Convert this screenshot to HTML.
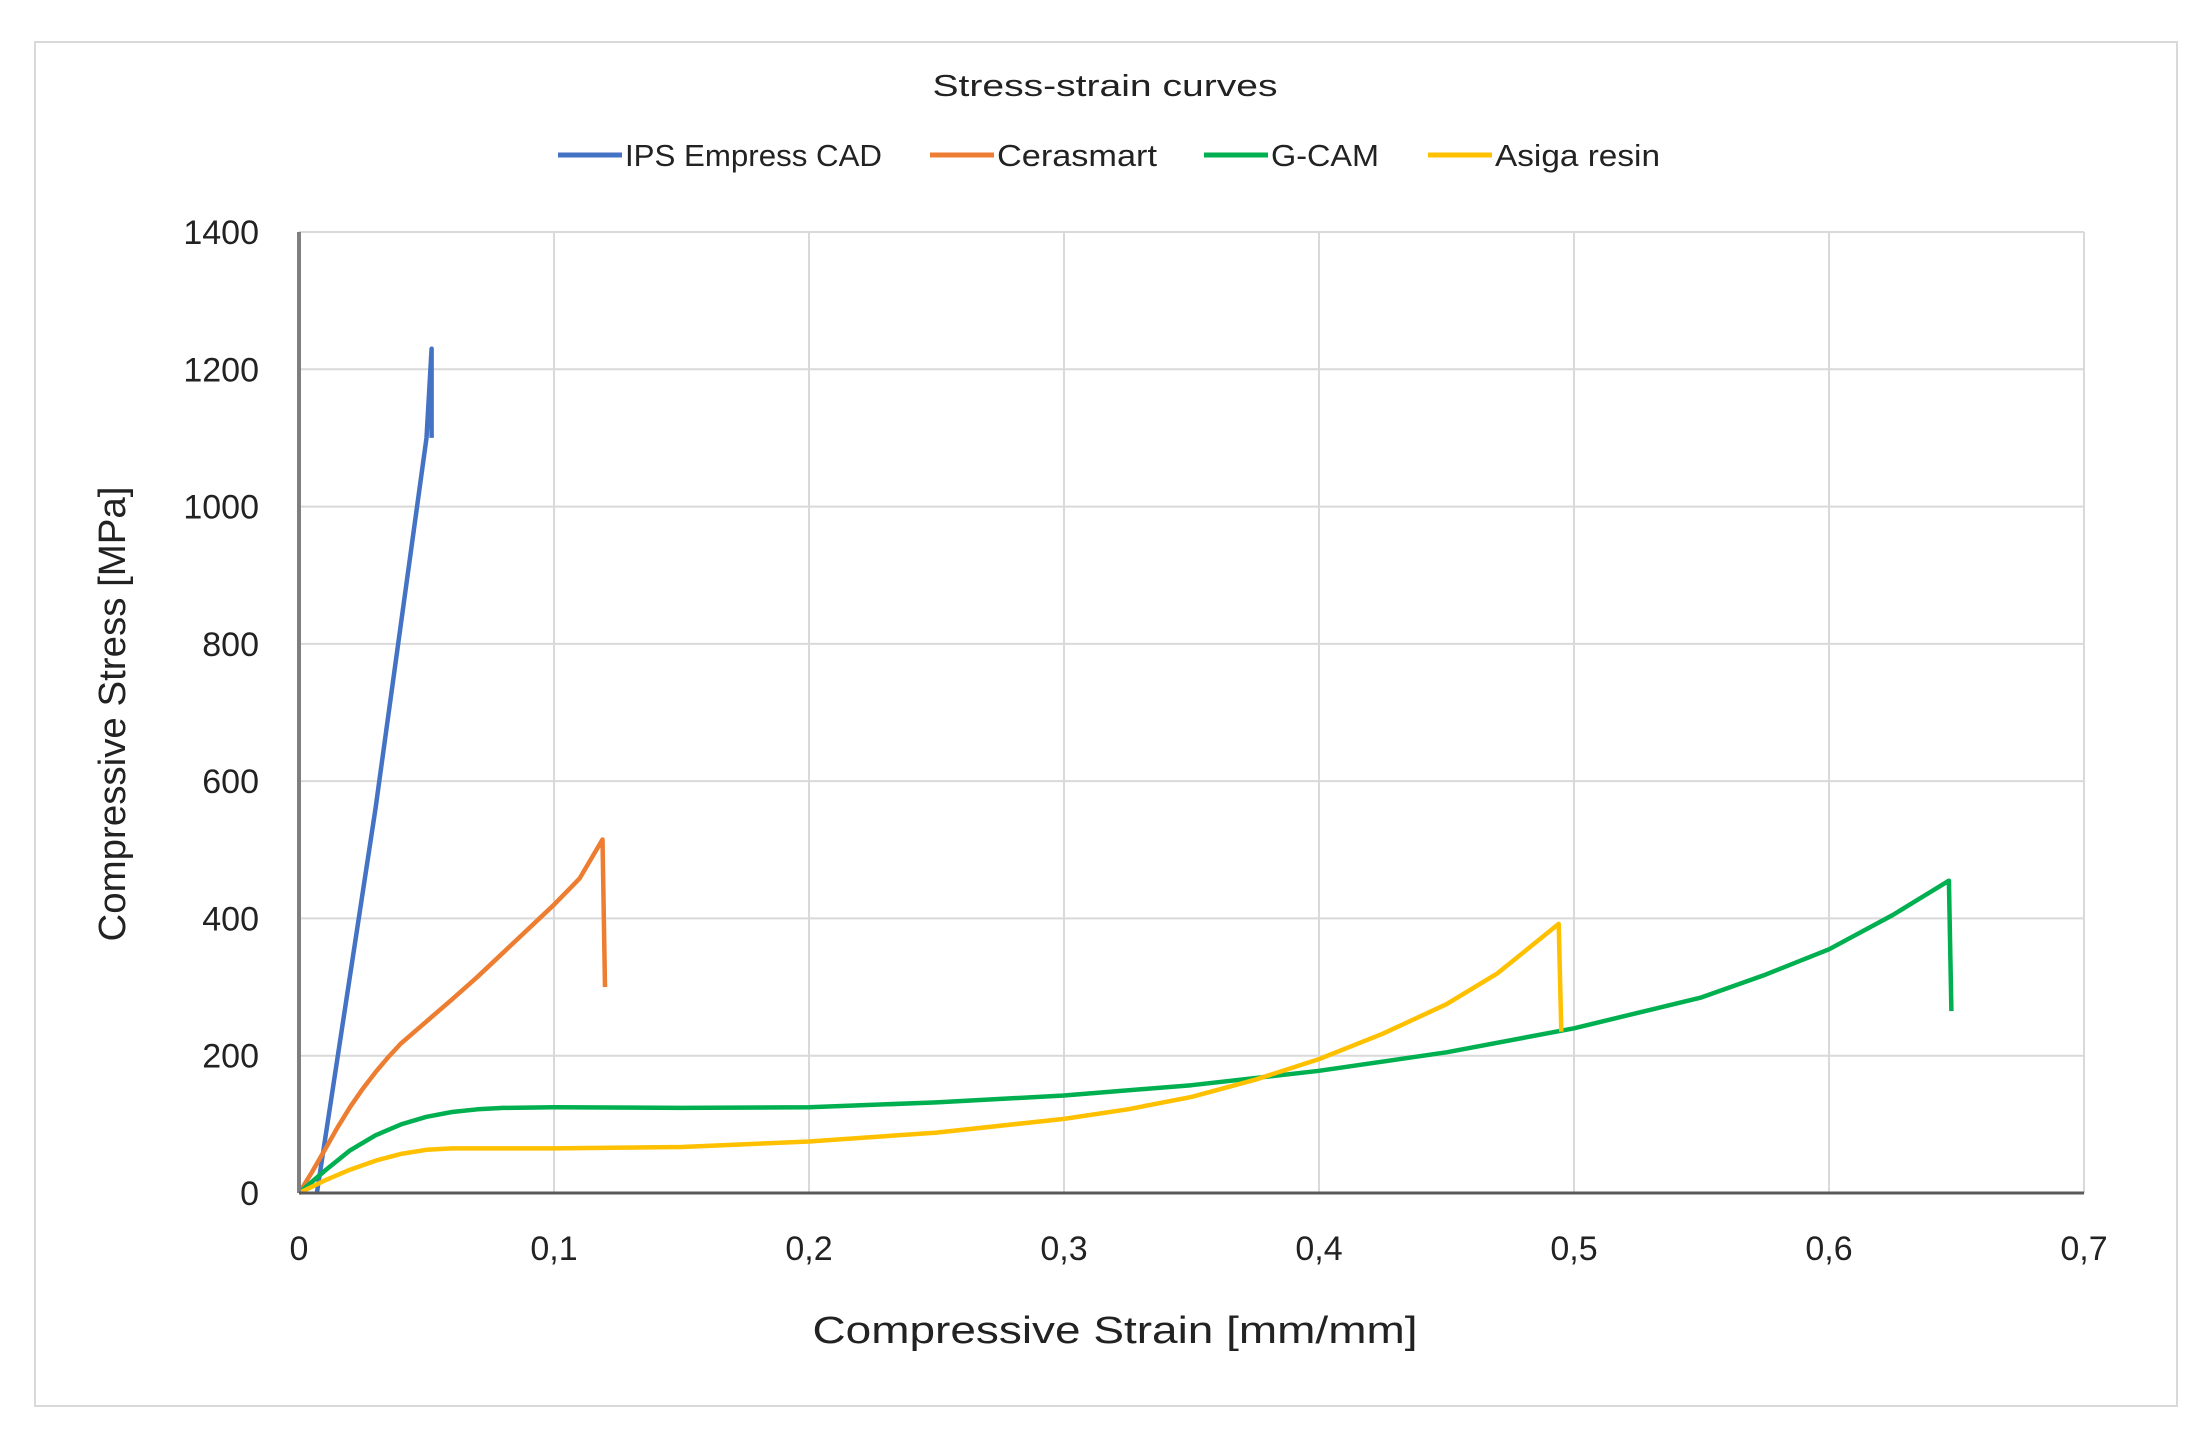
<!DOCTYPE html>
<html><head><meta charset="utf-8"><style>
html,body{margin:0;padding:0;background:#fff}
svg{display:block}
text{font-family:"Liberation Sans",sans-serif;fill:#222}
</style></head><body>
<svg id="chart" width="2205" height="1437" viewBox="0 0 2205 1437" xmlns="http://www.w3.org/2000/svg">
<rect x="35" y="42" width="2142" height="1364" fill="#fff" stroke="#d9d9d9" stroke-width="2"/>
<text x="1105" y="96" font-size="31" text-anchor="middle" textLength="345" lengthAdjust="spacingAndGlyphs">Stress-strain curves</text>
<g id="legend"></g>
<g id="grid"></g>
<g id="series"></g>
<g id="axes"></g>
<text transform="translate(125,714) rotate(-90)" font-size="38" text-anchor="middle" textLength="455" lengthAdjust="spacingAndGlyphs">Compressive Stress [MPa]</text>
<text x="1115" y="1343" font-size="38" text-anchor="middle" textLength="605" lengthAdjust="spacingAndGlyphs">Compressive Strain [mm/mm]</text>
</svg>
<script>
const xTicks=[0,0.1,0.2,0.3,0.4,0.5,0.6,0.7];
const xTickLabels=["0","0,1","0,2","0,3","0,4","0,5","0,6","0,7"];
const yTicks=[0,200,400,600,800,1000,1200,1400];
const seriesNames=["IPS Empress CAD","Cerasmart","G-CAM","Asiga resin"];
const seriesColors=["#4472c4","#ed7d31","#00b050","#ffc000"];
const empressX=[0.007,0.03,0.05,0.052,0.052];
const empressY=[0,560,1100,1230,1100];
const cerasmartX=[0,0.005,0.01,0.015,0.02,0.025,0.03,0.035,0.04,0.05,0.06,0.07,0.08,0.09,0.1,0.11,0.119,0.12];
const cerasmartY=[0,30,62,95,125,152,176,198,218,250,282,315,350,385,420,458,515,300];
const gcamX=[0,0.01,0.02,0.03,0.04,0.05,0.06,0.07,0.08,0.1,0.15,0.2,0.25,0.3,0.35,0.4,0.45,0.5,0.55,0.575,0.6,0.625,0.647,0.648];
const gcamY=[0,32,62,84,100,111,118,122,124,125,124,125,132,142,157,178,205,240,285,318,355,405,455,265];
const asigaX=[0,0.01,0.02,0.03,0.04,0.05,0.06,0.08,0.1,0.15,0.2,0.25,0.3,0.325,0.35,0.375,0.4,0.425,0.45,0.47,0.494,0.495];
const asigaY=[0,18,34,47,57,63,65,65,65,67,75,88,108,122,140,165,195,232,275,320,392,235];

const NS="http://www.w3.org/2000/svg";
const L=299,R=2084,T=232,B=1193;
const sx=v=>L+(v-0)/(0.7)*(R-L);
const sy=v=>B-(v/1400)*(B-T);
function mk(tag,attrs,parent){const e=document.createElementNS(NS,tag);for(const k in attrs)e.setAttribute(k,attrs[k]);parent.appendChild(e);return e;}
const grid=document.getElementById('grid'),axes=document.getElementById('axes'),ser=document.getElementById('series'),leg=document.getElementById('legend');
yTicks.forEach(v=>{
  if(v>0){const g=mk('line',{x1:L,x2:R,y1:sy(v),y2:sy(v),stroke:'#d9d9d9','stroke-width':2},grid);
  
  }
  const t=mk('text',{x:L-40,y:sy(v)+12,'font-size':34,'text-anchor':'end'},axes);t.textContent=v;
  
  
});
xTicks.forEach((v,i)=>{
  if(v>0){const g=mk('line',{x1:sx(v),x2:sx(v),y1:T,y2:B,stroke:'#d9d9d9','stroke-width':2},grid);
  
  }
  const t=mk('text',{x:sx(v),y:1260,'font-size':34,'text-anchor':'middle'},axes);t.textContent=xTickLabels[i];
  
  
});
const ya=mk('line',{x1:L,x2:L,y1:T,y2:B,stroke:'#7f7f7f','stroke-width':4},axes);


const xa=mk('line',{x1:L,x2:R,y1:B,y2:B,stroke:'#595959','stroke-width':3},axes);


const data=[[empressX,empressY],[cerasmartX,cerasmartY],[gcamX,gcamY],[asigaX,asigaY]];
const ids=['ips-empress-cad-line','cerasmart-line','g-cam-line','asiga-resin-line'];
data.forEach((d,i)=>{
  const pts=d[0].map((x,j)=>sx(x).toFixed(1)+','+sy(d[1][j]).toFixed(1)).join(' ');
  const p=mk('polyline',{points:pts,fill:'none',stroke:seriesColors[i],'stroke-width':4.5,'stroke-linejoin':'round'},ser);
  
  
});
const legX=[558,930,1204,1428],legW=[257,160,108,165];
seriesNames.forEach((n,i)=>{
  const l=mk('line',{x1:legX[i],x2:legX[i]+64,y1:155,y2:155,stroke:seriesColors[i],'stroke-width':5},leg);
  
  
  const t=mk('text',{x:legX[i]+67,y:166,'font-size':31,textLength:legW[i],lengthAdjust:'spacingAndGlyphs'},leg);t.textContent=n;
  
  
});
</script>
</body></html>
